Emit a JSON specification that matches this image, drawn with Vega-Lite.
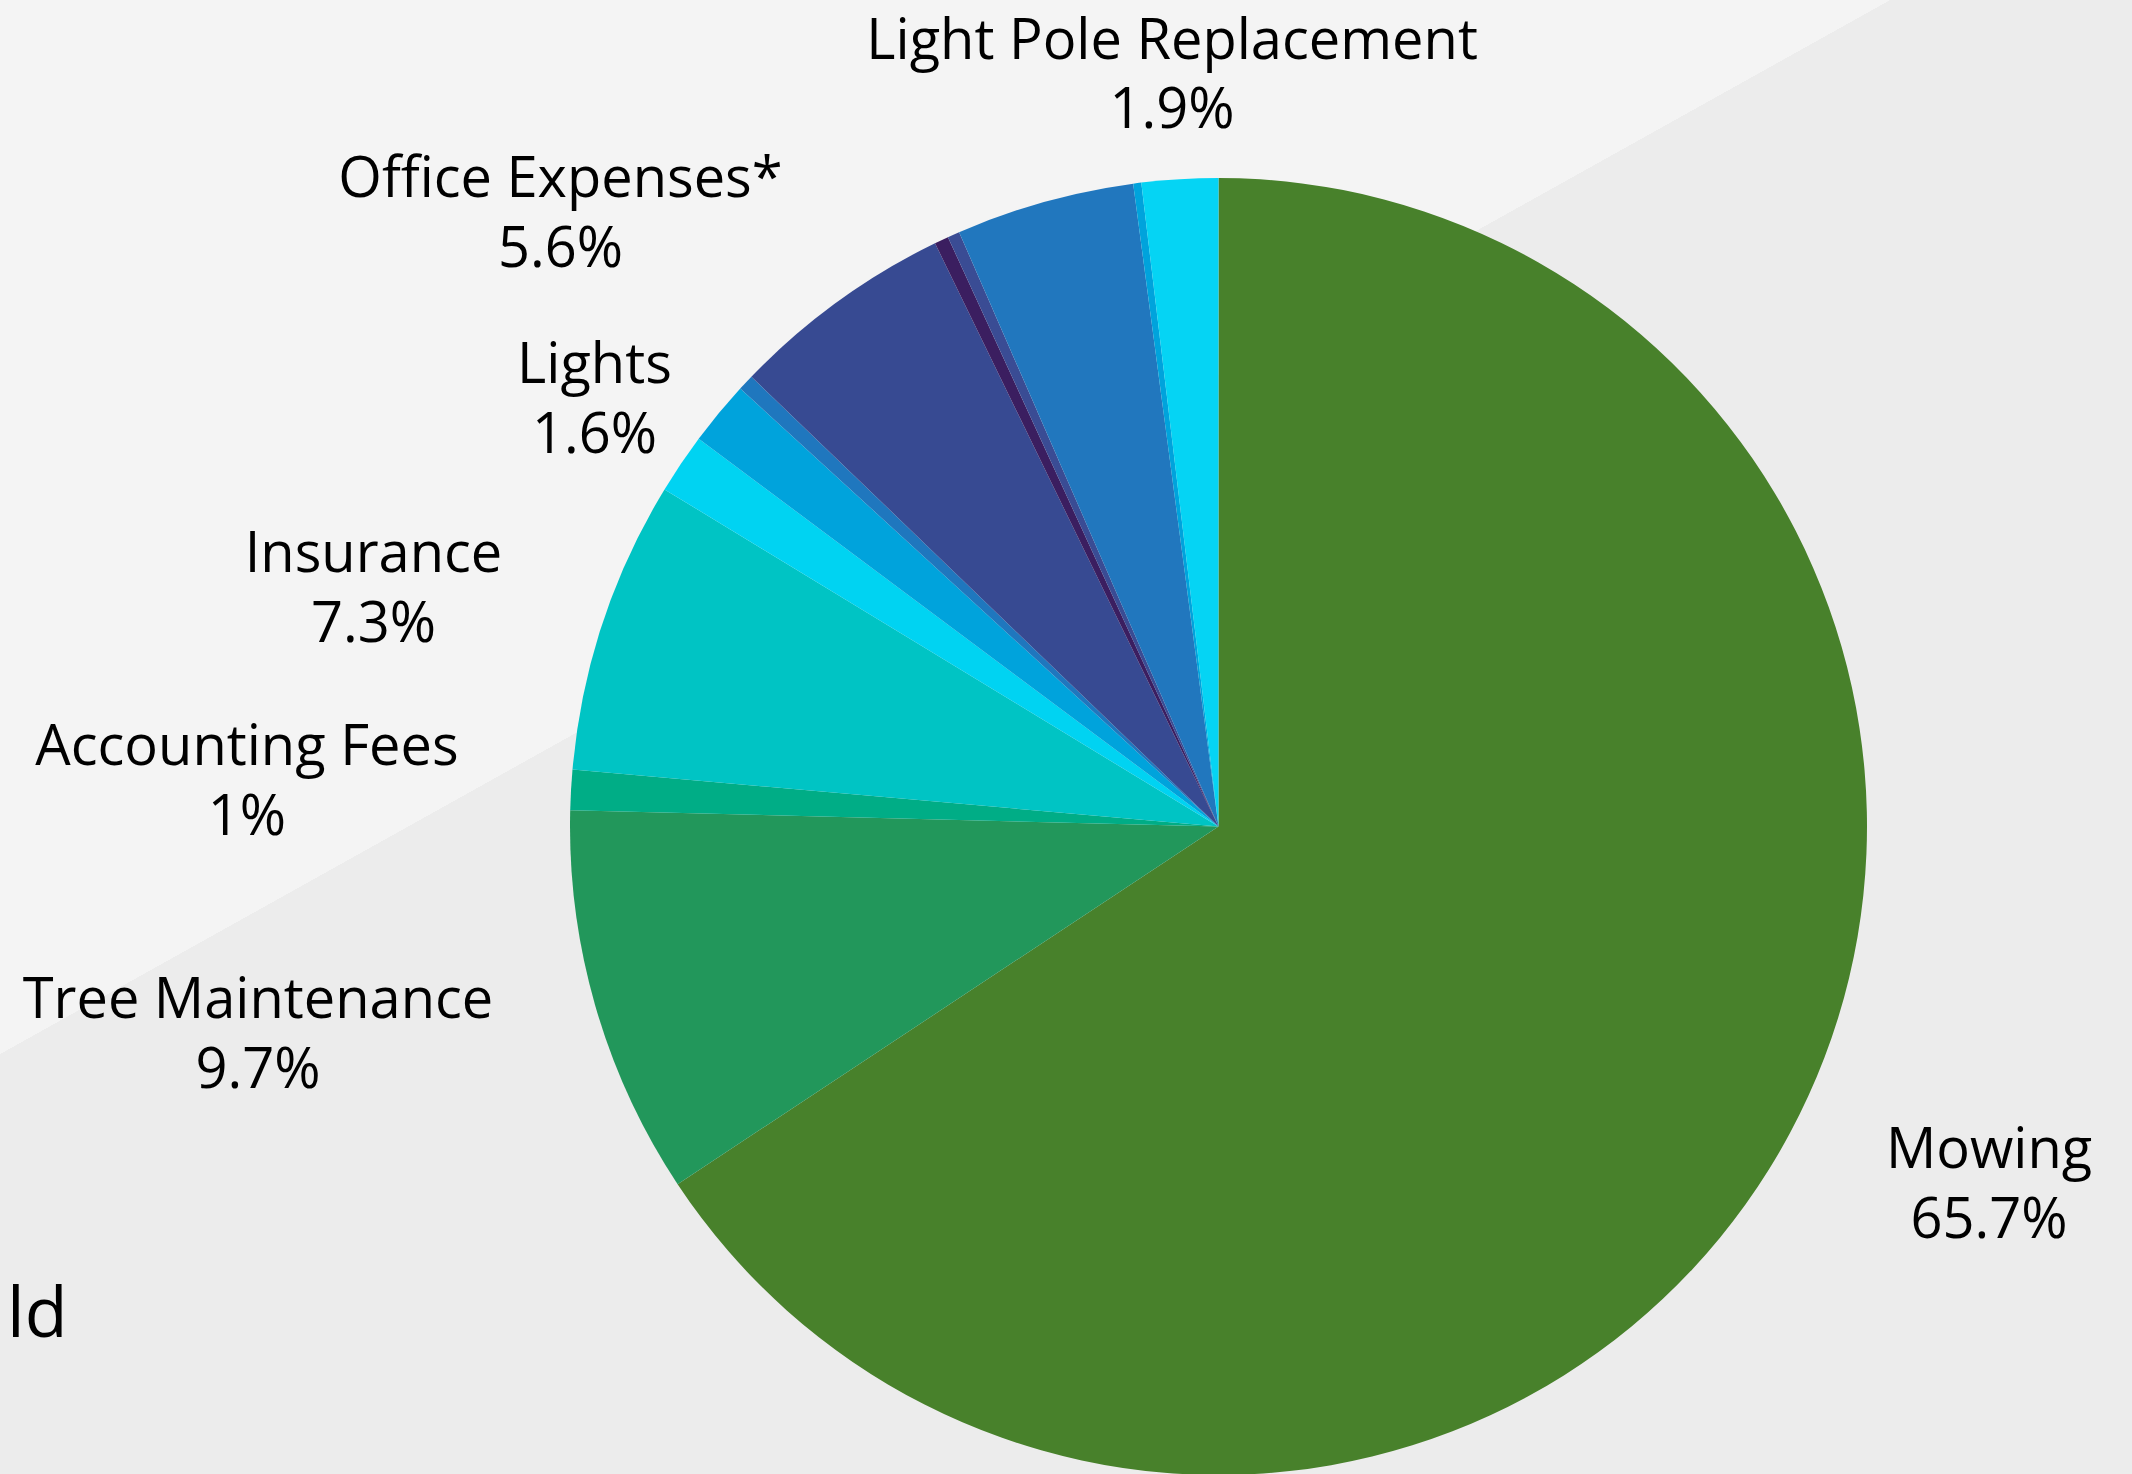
{
  "$schema": "https://vega.github.io/schema/vega-lite/v6.json",
  "width": 2437,
  "height": 1653,
  "autosize": {"type": "none"},
  "padding": {"left": 0, "top": 0, "right": -305, "bottom": -179},
  "background": "#F4F4F4",
  "title": {
    "text": "ld",
    "orient": "bottom",
    "anchor": "start",
    "frame": "group",
    "offset": 0,
    "baseline": "alphabetic",
    "dx": 7,
    "dy": -316,
    "font": "Open Sans",
    "fontSize": 70,
    "fontWeight": "normal",
    "color": "#000000"
  },
  "config": {
    "view": {"stroke": null},
    "text": {"font": "Open Sans", "fontSize": 56, "color": "#000000", "align": "center", "baseline": "alphabetic"}
  },
  "data": {
    "values": [
      {"category": "Mowing", "share": 0.657},
      {"category": "Tree Maintenance", "share": 0.097},
      {"category": "Accounting Fees", "share": 0.010},
      {"category": "Insurance", "share": 0.073},
      {"category": "Other 1", "share": 0.015},
      {"category": "Lights", "share": 0.016},
      {"category": "Other 2", "share": 0.004},
      {"category": "Office Expenses*", "share": 0.056},
      {"category": "Other 3", "share": 0.0035},
      {"category": "Other 4", "share": 0.003},
      {"category": "Other 5", "share": 0.0445},
      {"category": "Other 6", "share": 0.002},
      {"category": "Light Pole Replacement", "share": 0.019}
    ]
  },
  "transform": [{"window": [{"op": "row_number", "as": "rank"}]}],
  "layer": [
    {
      "mark": {
        "type": "rect", "x": 0, "x2": "width", "y": 0, "y2": "height",
        "fill": {
          "gradient": "linear",
          "x1": 0, "y1": 0, "x2": 0.6376, "y2": 0.7755,
          "stops": [
            {"offset": 0, "color": "#F4F4F4"},
            {"offset": 0.4906, "color": "#F4F4F4"},
            {"offset": 0.4907, "color": "#ECECEC"},
            {"offset": 1, "color": "#ECECEC"}
          ]
        }
      },
      "encoding": {}
    },
    {
      "mark": {"type": "arc", "outerRadius": 648.5, "strokeWidth": 0},
      "encoding": {
        "theta": {"field": "share", "type": "quantitative", "stack": true},
        "order": {"field": "rank", "type": "quantitative"},
        "color": {
          "field": "category", "type": "nominal", "legend": null,
          "scale": {
            "domain": ["Mowing", "Tree Maintenance", "Accounting Fees", "Insurance", "Other 1", "Lights", "Other 2", "Office Expenses*", "Other 3", "Other 4", "Other 5", "Other 6", "Light Pole Replacement"],
            "range": ["#48812B", "#22975B", "#00AD86", "#00C4C4", "#00D3F2", "#00A3DC", "#1F77BE", "#374A92", "#3B1E60", "#3A4C94", "#2177BE", "#00A3DC", "#05D4F4"]
          }
        }
      }
    },
    {
      "mark": {"type": "text", "radius": 857.6, "dx": 15.2, "dy": -64.5},
      "encoding": {
        "theta": {"field": "share", "type": "quantitative", "stack": true},
        "order": {"field": "rank", "type": "quantitative"},
        "detail": {"field": "category", "type": "nominal"},
        "text": {"condition": {"test": "datum.category === 'Mowing'", "field": "category", "type": "nominal"}, "value": ""}
      }
    },
    {
      "mark": {"type": "text", "radius": 857.6, "dx": 15.2, "dy": 5.5},
      "encoding": {
        "theta": {"field": "share", "type": "quantitative", "stack": true},
        "order": {"field": "rank", "type": "quantitative"},
        "detail": {"field": "category", "type": "nominal"},
        "text": {"condition": {"test": "datum.category === 'Mowing'", "field": "share", "type": "quantitative", "format": ".1~%"}, "value": ""}
      }
    },
    {
      "mark": {"type": "text", "radius": 986.7, "dx": -12.1, "dy": -81.3},
      "encoding": {
        "theta": {"field": "share", "type": "quantitative", "stack": true},
        "order": {"field": "rank", "type": "quantitative"},
        "detail": {"field": "category", "type": "nominal"},
        "text": {"condition": {"test": "datum.category === 'Tree Maintenance'", "field": "category", "type": "nominal"}, "value": ""}
      }
    },
    {
      "mark": {"type": "text", "radius": 986.7, "dx": -12.1, "dy": -11.3},
      "encoding": {
        "theta": {"field": "share", "type": "quantitative", "stack": true},
        "order": {"field": "rank", "type": "quantitative"},
        "detail": {"field": "category", "type": "nominal"},
        "text": {"condition": {"test": "datum.category === 'Tree Maintenance'", "field": "share", "type": "quantitative", "format": ".1~%"}, "value": ""}
      }
    },
    {
      "mark": {"type": "text", "radius": 971.8, "dx": -1.3, "dy": -6.1},
      "encoding": {
        "theta": {"field": "share", "type": "quantitative", "stack": true},
        "order": {"field": "rank", "type": "quantitative"},
        "detail": {"field": "category", "type": "nominal"},
        "text": {"condition": {"test": "datum.category === 'Accounting Fees'", "field": "category", "type": "nominal"}, "value": ""}
      }
    },
    {
      "mark": {"type": "text", "radius": 971.8, "dx": -1.3, "dy": 63.9},
      "encoding": {
        "theta": {"field": "share", "type": "quantitative", "stack": true},
        "order": {"field": "rank", "type": "quantitative"},
        "detail": {"field": "category", "type": "nominal"},
        "text": {"condition": {"test": "datum.category === 'Accounting Fees'", "field": "share", "type": "quantitative", "format": ".1~%"}, "value": ""}
      }
    },
    {
      "mark": {"type": "text", "radius": 873.0, "dx": -15.6, "dy": 17.9},
      "encoding": {
        "theta": {"field": "share", "type": "quantitative", "stack": true},
        "order": {"field": "rank", "type": "quantitative"},
        "detail": {"field": "category", "type": "nominal"},
        "text": {"condition": {"test": "datum.category === 'Insurance'", "field": "category", "type": "nominal"}, "value": ""}
      }
    },
    {
      "mark": {"type": "text", "radius": 873.0, "dx": -15.6, "dy": 87.9},
      "encoding": {
        "theta": {"field": "share", "type": "quantitative", "stack": true},
        "order": {"field": "rank", "type": "quantitative"},
        "detail": {"field": "category", "type": "nominal"},
        "text": {"condition": {"test": "datum.category === 'Insurance'", "field": "share", "type": "quantitative", "format": ".1~%"}, "value": ""}
      }
    },
    {
      "mark": {"type": "text", "radius": 745.8, "dx": -49.4, "dy": 31.9},
      "encoding": {
        "theta": {"field": "share", "type": "quantitative", "stack": true},
        "order": {"field": "rank", "type": "quantitative"},
        "detail": {"field": "category", "type": "nominal"},
        "text": {"condition": {"test": "datum.category === 'Lights'", "field": "category", "type": "nominal"}, "value": ""}
      }
    },
    {
      "mark": {"type": "text", "radius": 745.8, "dx": -49.4, "dy": 101.9},
      "encoding": {
        "theta": {"field": "share", "type": "quantitative", "stack": true},
        "order": {"field": "rank", "type": "quantitative"},
        "detail": {"field": "category", "type": "nominal"},
        "text": {"condition": {"test": "datum.category === 'Lights'", "field": "share", "type": "quantitative", "format": ".1~%"}, "value": ""}
      }
    },
    {
      "mark": {"type": "text", "radius": 886.4, "dx": -137, "dy": 88.1},
      "encoding": {
        "theta": {"field": "share", "type": "quantitative", "stack": true},
        "order": {"field": "rank", "type": "quantitative"},
        "detail": {"field": "category", "type": "nominal"},
        "text": {"condition": {"test": "datum.category === 'Office Expenses*'", "field": "category", "type": "nominal"}, "value": ""}
      }
    },
    {
      "mark": {"type": "text", "radius": 886.4, "dx": -137, "dy": 158.1},
      "encoding": {
        "theta": {"field": "share", "type": "quantitative", "stack": true},
        "order": {"field": "rank", "type": "quantitative"},
        "detail": {"field": "category", "type": "nominal"},
        "text": {"condition": {"test": "datum.category === 'Office Expenses*'", "field": "share", "type": "quantitative", "format": ".1~%"}, "value": ""}
      }
    },
    {
      "mark": {"type": "text", "radius": 738.0, "dx": -2.4, "dy": -31},
      "encoding": {
        "theta": {"field": "share", "type": "quantitative", "stack": true},
        "order": {"field": "rank", "type": "quantitative"},
        "detail": {"field": "category", "type": "nominal"},
        "text": {"condition": {"test": "datum.category === 'Light Pole Replacement'", "field": "category", "type": "nominal"}, "value": ""}
      }
    },
    {
      "mark": {"type": "text", "radius": 738.0, "dx": -2.4, "dy": 38},
      "encoding": {
        "theta": {"field": "share", "type": "quantitative", "stack": true},
        "order": {"field": "rank", "type": "quantitative"},
        "detail": {"field": "category", "type": "nominal"},
        "text": {"condition": {"test": "datum.category === 'Light Pole Replacement'", "field": "share", "type": "quantitative", "format": ".1~%"}, "value": ""}
      }
    }
  ]
}
